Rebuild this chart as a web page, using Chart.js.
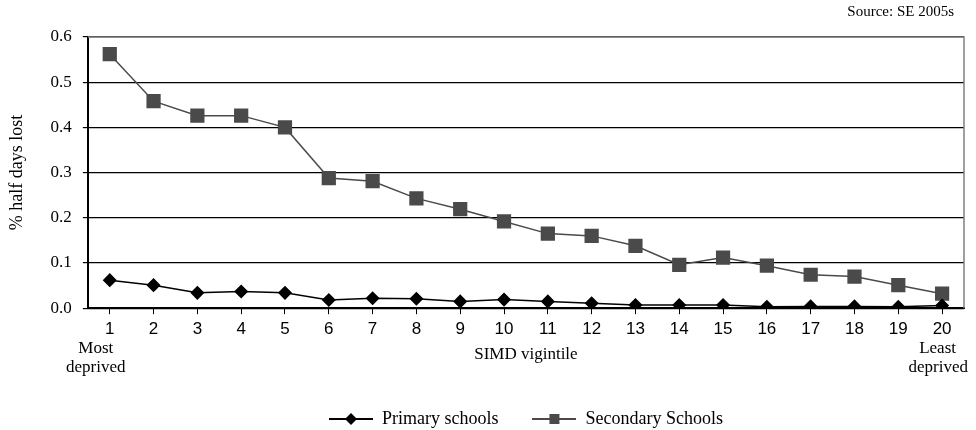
<!DOCTYPE html>
<html>
<head>
<meta charset="utf-8">
<script src="https://cdn.jsdelivr.net/npm/chart.js@4.4.0/dist/chart.umd.min.js"></script>
<style>
  html, body { margin: 0; padding: 0; background: #fff; }
  #wrap { width: 976px; height: 430px; }
</style>
</head>
<body>
<div id="wrap"><canvas id="absence"></canvas></div>
<script>
var vigintiles = ["1", "2", "3", "4", "5", "6", "7", "8", "9", "10",
  "11", "12", "13", "14", "15", "16", "17", "18", "19", "20"];

var primary = [0.062, 0.051, 0.034, 0.037, 0.034, 0.018, 0.022, 0.021, 0.015, 0.019,
  0.015, 0.011, 0.007, 0.007, 0.007, 0.003, 0.004, 0.004, 0.003, 0.006];

var secondary = [0.562, 0.458, 0.426, 0.426, 0.400, 0.288, 0.281, 0.243, 0.219, 0.192,
  0.165, 0.160, 0.138, 0.096, 0.112, 0.094, 0.074, 0.070, 0.051, 0.032];

var seriesNames = ["Primary schools", "Secondary Schools"];
var sourceNote = "Source: SE 2005s";
var lowEnd = ["Most", "deprived"];
var highEnd = ["Least", "deprived"];

var serif = '"Liberation Serif", "Times New Roman", serif';

// little line+marker swatch for the legend
function swatch(color, shape) {
  var c = document.createElement("canvas");
  c.width = 44; c.height = 14;
  var g = c.getContext("2d");
  g.strokeStyle = color; g.lineWidth = 2;
  g.beginPath(); g.moveTo(0, 7); g.lineTo(44, 7); g.stroke();
  g.fillStyle = color;
  if (shape == "diamond") {
    g.beginPath();
    g.moveTo(22, 1); g.lineTo(28, 7); g.lineTo(22, 13); g.lineTo(16, 7);
    g.closePath(); g.fill();
  } else {
    g.fillRect(17, 2, 10, 10);
  }
  return c;
}
var swatches = [swatch("#000", "diamond"), swatch("#4a4a4a", "square")];

var notes = {
  id: "notes",
  beforeDatasetsDraw: function (chart) {
    var a = chart.chartArea, ctx = chart.ctx;
    ctx.save();
    ctx.strokeStyle = "#808080";
    ctx.lineWidth = 1.5;
    ctx.beginPath();
    ctx.moveTo(a.left, a.top); ctx.lineTo(a.right, a.top); ctx.lineTo(a.right, a.bottom);
    ctx.stroke();
    ctx.restore();
  },
  afterDraw: function (chart) {
    var ctx = chart.ctx, a = chart.chartArea, x = chart.scales.x;
    ctx.save();
    ctx.fillStyle = "#000";
    ctx.textBaseline = "middle";
    ctx.font = "15px " + serif;
    ctx.textAlign = "right";
    ctx.fillText(sourceNote, a.right - 10, 12);

    ctx.font = "17px " + serif;
    ctx.textAlign = "center";
    var x0 = x.getPixelForValue(0) - 14;
    lowEnd.forEach(function (t, i) { ctx.fillText(t, x0, a.bottom + 40 + i * 19); });
    ctx.textAlign = "right";
    var x1 = chart.width - 8;
    ctx.fillText(highEnd[0], x1 - 12, a.bottom + 40);
    ctx.fillText(highEnd[1], x1, a.bottom + 59);
    ctx.restore();
  }
};

new Chart("absence", {
  type: "line",
  data: {
    labels: vigintiles,
    datasets: [{
      label: seriesNames[0],
      data: primary,
      borderColor: "#000",
      backgroundColor: "#000",
      borderWidth: 1.5,
      pointStyle: "rectRot",
      pointRadius: 6,
      pointHoverRadius: 6,
      tension: 0
    }, {
      label: seriesNames[1],
      data: secondary,
      borderColor: "#4a4a4a",
      backgroundColor: "#4a4a4a",
      borderWidth: 1.5,
      pointStyle: "rect",
      pointRadius: 9,
      pointHoverRadius: 9,
      tension: 0
    }]
  },
  options: {
    responsive: true,
    maintainAspectRatio: false,
    animation: false,
    layout: { padding: { left: 6, right: 12, top: 37, bottom: -8 } },
    plugins: {
      tooltip: { enabled: false },
      legend: {
        position: "bottom",
        fullSize: false,
        labels: {
          usePointStyle: true,
          pointStyleWidth: 44,
          boxHeight: 14,
          padding: 34,
          color: "#000",
          font: { family: serif, size: 18 },
          generateLabels: function (chart) {
            var items = Chart.defaults.plugins.legend.labels.generateLabels(chart);
            items.forEach(function (it, i) { it.pointStyle = swatches[i]; });
            return items;
          }
        }
      }
    },
    scales: {
      x: {
        offset: true,
        grid: { drawOnChartArea: false, color: "#000", tickLength: 6 },
        border: { color: "#000", width: 2 },
        ticks: {
          color: "#000",
          padding: 5,
          maxRotation: 0,
          autoSkip: false,
          font: { family: '"Liberation Sans Narrow", "Liberation Sans", Arial, sans-serif', size: 17 }
        },
        title: {
          display: true,
          text: "SIMD vigintile",
          color: "#000",
          font: { family: serif, size: 17 },
          padding: { top: 0, bottom: 11 }
        }
      },
      y: {
        min: 0,
        max: 0.6,
        grid: { color: "#000", lineWidth: 1.2, tickLength: 5 },
        border: { color: "#000", width: 2 },
        ticks: {
          stepSize: 0.1,
          color: "#000",
          padding: 11,
          font: { family: serif, size: 17 },
          callback: function (v) { return v.toFixed(1); }
        },
        title: {
          display: true,
          text: "% half days lost",
          color: "#000",
          font: { family: serif, size: 18 },
          padding: { top: 0, bottom: 12 }
        }
      }
    }
  },
  plugins: [notes]
});
</script>
</body>
</html>
